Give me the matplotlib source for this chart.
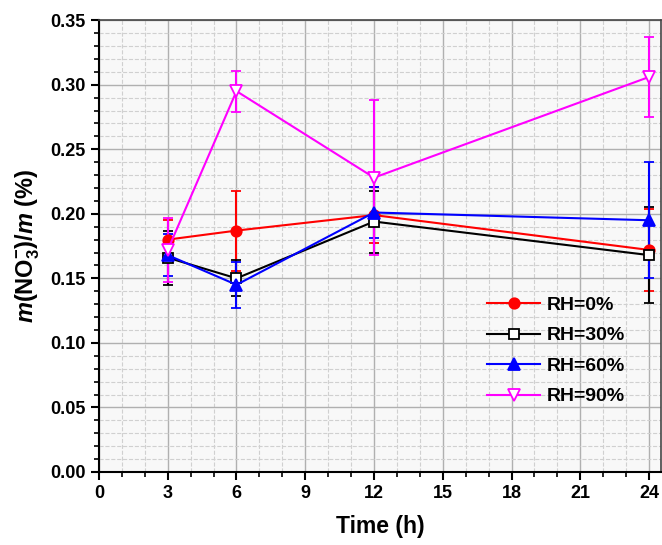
import matplotlib
matplotlib.use("Agg")
import matplotlib.pyplot as plt
from matplotlib.ticker import MultipleLocator, FormatStrFormatter

plt.rcParams["font.family"] = ["Liberation Sans", "DejaVu Sans"]
plt.rcParams["font.weight"] = "bold"
plt.rcParams["mathtext.fontset"] = "custom"
plt.rcParams["mathtext.rm"] = "Liberation Sans:bold"
plt.rcParams["mathtext.bf"] = "Liberation Sans:bold"
plt.rcParams["mathtext.it"] = "Liberation Sans:italic:bold"

time_h = [3, 6, 12, 24]
labels = ["RH=0%", "RH=30%", "RH=60%", "RH=90%"]
rh0 = [0.180, 0.187, 0.199, 0.172]
rh0_err = [0.015, 0.031, 0.022, 0.032]
rh30 = [0.166, 0.150, 0.194, 0.168]
rh30_err = [0.021, 0.014, 0.024, 0.037]
rh60 = [0.168, 0.145, 0.201, 0.195]
rh60_err = [0.016, 0.018, 0.020, 0.045]
rh90 = [0.172, 0.295, 0.228, 0.306]
rh90_err = [0.025, 0.016, 0.060, 0.031]

series = [rh0, rh30, rh60, rh90]
errors = [rh0_err, rh30_err, rh60_err, rh90_err]
# colour, marker, face, size
styles = [
    ("#ff0000", "o", "#ff0000", 7.5),
    ("#000000", "s", "white", 6.5),
    ("#0000ff", "^", "#0000ff", 8),
    ("#ff00ff", "v", "white", 8.5),
]

fig = plt.figure(figsize=(6.62, 5.45), dpi=100)
ax = fig.add_axes([0.1495, 0.134, 0.849, 0.829])
ax.set_facecolor("#f8f8f8")

handles = []
for vals, err, lab, (col, mk, fc, ms) in zip(series, errors, labels, styles):
    c = ax.errorbar(time_h, vals, yerr=err, color=col, marker=mk, mfc=fc, mec=col,
                    ms=ms, mew=1.3, lw=1.5, elinewidth=1.5,
                    capsize=3.5, capthick=1.5, label=lab)
    handles.append(c[0])

ax.set_xlim(0, 24.52)
ax.set_ylim(0, 0.35)
ax.xaxis.set_major_locator(MultipleLocator(3))
ax.xaxis.set_minor_locator(MultipleLocator(1))
ax.yaxis.set_major_locator(MultipleLocator(0.05))
ax.yaxis.set_minor_locator(MultipleLocator(0.01))
ax.yaxis.set_major_formatter(FormatStrFormatter("%.2f"))

ax.grid(which="major", color="#b0b0b0", lw=1.0, ls="-")
ax.grid(which="minor", color="#d0d0d0", lw=0.8, ls="--")
ax.set_axisbelow(True)

ax.tick_params(which="major", direction="out", length=6, width=1.5, labelsize=13)
ax.tick_params(which="minor", direction="out", length=3.5, width=1.2)
ax.tick_params(top=False, right=False)
for s in ax.spines.values():
    s.set_linewidth(1.5)
for s in ("top", "right"):
    ax.spines[s].set_color("#444444")
    ax.spines[s].set_linewidth(1.2)

ax.set_xlabel("Time (h)", fontsize=16.5, fontweight="bold", labelpad=9)
ax.set_ylabel(r"$m$(NO$_3^{-}$)/$m$ (%)", fontsize=17, fontweight="bold", labelpad=6)

ax.legend(handles, labels, loc="center left", bbox_to_anchor=(0.66, 0.268),
          frameon=False, fontsize=14, handlelength=2.7, labelspacing=0.66,
          handletextpad=0.35)

fig.savefig("out.png", dpi=100)
